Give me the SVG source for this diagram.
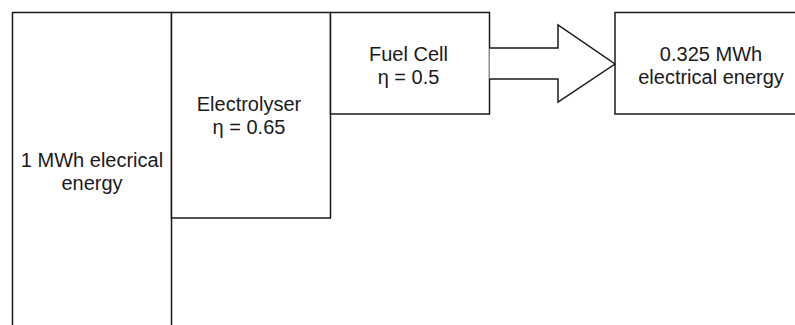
<svg xmlns="http://www.w3.org/2000/svg" width="795" height="325" viewBox="0 0 795 325">
  <style>
    .box { fill: #ffffff; stroke: #1a1a1a; stroke-width: 1.5; }
    .lbl { font-family: "Liberation Sans", Arial, Helvetica, sans-serif; font-size: 20px; fill: #1a1a1a; text-anchor: middle; }
  </style>
  <rect x="0" y="0" width="795" height="325" fill="#ffffff"/>
  <g id="input">
    <rect class="box" x="12.5" y="12.5" width="159" height="330"/>
    <text class="lbl" x="92" y="167">1 MWh elecrical</text>
    <text class="lbl" x="92" y="190">energy</text>
  </g>
  <g id="electrolyser">
    <rect class="box" x="171.5" y="12.5" width="159" height="205.5"/>
    <text class="lbl" x="249" y="111">Electrolyser</text>
    <text class="lbl" x="249" y="134">η = 0.65</text>
  </g>
  <g id="fuelcell">
    <rect class="box" x="330.5" y="12.5" width="159" height="101.5"/>
    <text class="lbl" x="408.5" y="60.5">Fuel Cell</text>
    <text class="lbl" x="408.5" y="83.5">η = 0.5</text>
  </g>
  <g id="output">
    <rect class="box" x="615" y="12.5" width="195" height="101.5"/>
    <text class="lbl" x="711" y="60.5">0.325 MWh</text>
    <text class="lbl" x="711" y="83.5">electrical energy</text>
  </g>
  <g id="connectors">
    <path class="box" d="M489.5,48 L558,48 L558,25 L615,64 L558,102 L558,79 L489.5,79"/>
  </g>
</svg>
